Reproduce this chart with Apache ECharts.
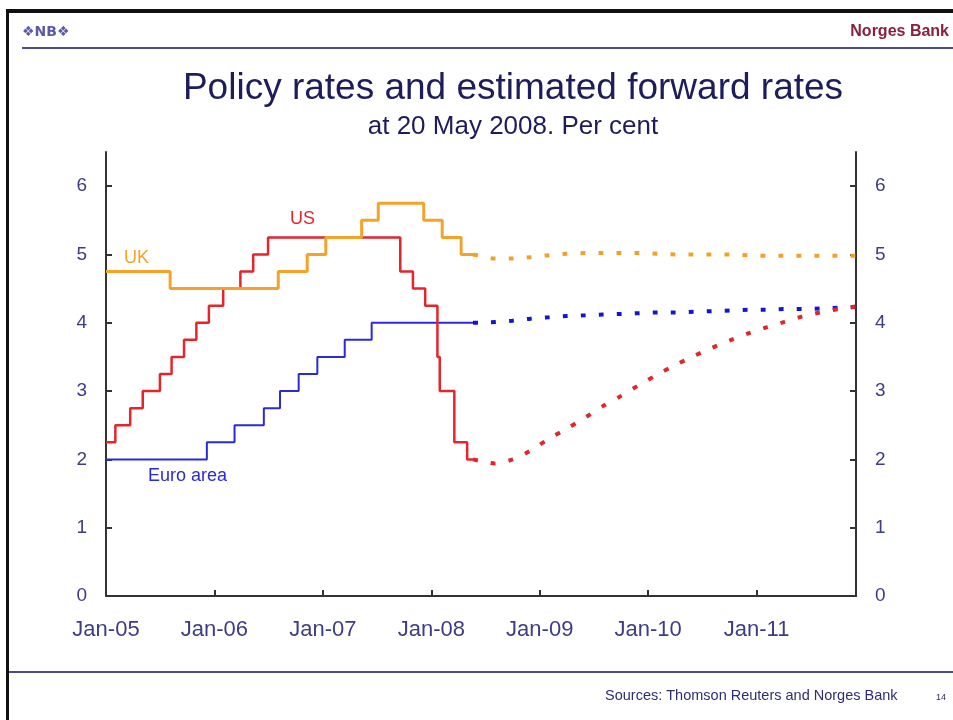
<!DOCTYPE html>
<html>
<head>
<meta charset="utf-8">
<script src="https://cdn.jsdelivr.net/npm/echarts@6/dist/echarts.min.js"></script>
<style>
  html, body { margin: 0; padding: 0; background: #ffffff; }
  #chart { width: 953px; height: 720px; }
</style>
</head>
<body>
<div id="chart"></div>
<script>
// Axis tick labels
const xTickLabels = ['Jan-05', 'Jan-06', 'Jan-07', 'Jan-08', 'Jan-09', 'Jan-10', 'Jan-11'];
const yTickValues = [0, 1, 2, 3, 4, 5, 6];

// Policy rates: date each rate took effect, and the rate (per cent)
const ukDates = ['2005-01-01', '2005-08-04', '2006-08-03', '2006-11-09', '2007-01-11', '2007-05-10',
                 '2007-07-05', '2007-12-06', '2008-02-07', '2008-04-10', '2008-05-20'];
const ukRates = [4.75, 4.50, 4.75, 5.00, 5.25, 5.50, 5.75, 5.50, 5.25, 5.00, 5.00];

const usDates = ['2005-01-01', '2005-02-02', '2005-03-22', '2005-05-03', '2005-06-30', '2005-08-09',
                 '2005-09-20', '2005-11-01', '2005-12-13', '2006-01-31', '2006-03-28', '2006-05-10',
                 '2006-06-29', '2007-09-18', '2007-10-31', '2007-12-11', '2008-01-22', '2008-01-30',
                 '2008-03-18', '2008-04-30', '2008-05-20'];
const usRates = [2.25, 2.50, 2.75, 3.00, 3.25, 3.50, 3.75, 4.00, 4.25, 4.50, 4.75, 5.00,
                 5.25, 4.75, 4.50, 4.25, 3.50, 3.00, 2.25, 2.00, 2.00];

const euroDates = ['2005-01-01', '2005-12-06', '2006-03-08', '2006-06-15', '2006-08-09', '2006-10-11',
                   '2006-12-13', '2007-03-14', '2007-06-13', '2008-05-20'];
const euroRates = [2.00, 2.25, 2.50, 2.75, 3.00, 3.25, 3.50, 3.75, 4.00, 4.00];

// Estimated forward rates from 20 May 2008
const fwdDates = ['2008-05-20', '2008-07', '2008-08', '2008-10', '2008-12', '2009-02', '2009-04',
                  '2009-06', '2009-08', '2009-10', '2009-12', '2010-02', '2010-04', '2010-06',
                  '2010-08', '2010-10', '2010-12', '2011-02', '2011-04', '2011-06', '2011-08',
                  '2011-10', '2011-12'];
const ukForward   = [5.00, 4.96, 4.94, 4.94, 4.96, 4.99, 5.01, 5.02, 5.02, 5.02, 5.02, 5.01,
                     5.00, 5.00, 5.00, 5.00, 4.99, 4.98, 4.98, 4.98, 4.98, 4.98, 4.98];
const usForward   = [2.00, 1.96, 1.94, 2.00, 2.13, 2.30, 2.45, 2.61, 2.78, 2.93, 3.09, 3.24,
                     3.38, 3.51, 3.63, 3.74, 3.84, 3.93, 4.01, 4.09, 4.15, 4.20, 4.24];
const euroForward = [4.00, 4.00, 4.01, 4.03, 4.06, 4.08, 4.10, 4.11, 4.12, 4.13, 4.14, 4.15,
                     4.15, 4.16, 4.17, 4.18, 4.19, 4.19, 4.20, 4.20, 4.21, 4.22, 4.23];

// Months elapsed since January 2005 (fractional within the month)
function toMonth(s) {
  const p = s.split('-').map(Number);
  const y = p[0], m = p[1], d = p[2] || 1;
  const dim = new Date(y, m, 0).getDate();
  return (y - 2005) * 12 + (m - 1) + (d - 1) / dim;
}
function pairs(dates, vals) {
  return dates.map((d, i) => [toMonth(d), vals[i]]);
}

const FONT = '"Liberation Sans", Arial, sans-serif';
const NAVY = '#3d3d86';
const TITLE = '#1d1d5c';
const C_UK = '#f3a329';
const C_US = '#e4262c';
const C_EURO = '#2a2ad8';

const chart = echarts.init(document.getElementById('chart'), null, { renderer: 'canvas' });

const yAxisBase = {
  type: 'value', min: 0, max: 6.5,
  splitLine: { show: false },
  axisLine: { show: true, lineStyle: { color: '#333333', width: 2 } },
  axisTick: { show: true, inside: true, length: 6, customValues: yTickValues,
              lineStyle: { color: '#333333', width: 2 } },
  axisLabel: { customValues: yTickValues, color: NAVY, fontFamily: FONT, fontSize: 19, margin: 19 }
};

const stepLine = (name, data, color, width, z) => ({
  name, type: 'line', step: 'end', data, symbol: 'none', z,
  lineStyle: { color, width }, animation: false, silent: true
});
const fwdLine = (name, data, color, z) => ({
  name, type: 'line', smooth: 0.3, data, symbol: 'none', z,
  lineStyle: { color, width: 4, type: [5, 13], cap: 'butt' }, animation: false, silent: true
});

chart.setOption({
  backgroundColor: '#ffffff',
  animation: false,
  grid: { left: 106, right: 97, top: 152, bottom: 124, containLabel: false },
  xAxis: {
    type: 'value', min: 0, max: 83,
    splitLine: { show: false },
    axisLine: { show: true, lineStyle: { color: '#333333', width: 2 } },
    axisTick: { show: true, inside: true, length: 6,
                customValues: xTickLabels.map((_, i) => i * 12),
                lineStyle: { color: '#333333', width: 2 } },
    axisLabel: { customValues: xTickLabels.map((_, i) => i * 12),
                 formatter: v => xTickLabels[Math.round(v / 12)],
                 color: NAVY, fontFamily: FONT, fontSize: 22, margin: 23 }
  },
  yAxis: [
    Object.assign({}, yAxisBase, { position: 'left' }),
    Object.assign({}, yAxisBase, { position: 'right' })
  ],
  series: [
    stepLine('Euro area', pairs(euroDates, euroRates), C_EURO, 2, 2),
    stepLine('US', pairs(usDates, usRates), C_US, 2.5, 3),
    stepLine('UK', pairs(ukDates, ukRates), C_UK, 3, 4),
    fwdLine('Euro area forward', pairs(fwdDates, euroForward), '#1414d2', 5),
    fwdLine('US forward', pairs(fwdDates, usForward), '#e0262a', 5),
    fwdLine('UK forward', pairs(fwdDates, ukForward), '#f0a228', 5)
  ],
  graphic: [
    // frame
    { type: 'rect', shape: { x: 7, y: 9, width: 960, height: 4 }, style: { fill: '#111111' }, silent: true },
    { type: 'rect', shape: { x: 6, y: 9, width: 3, height: 720 }, style: { fill: '#111111' }, silent: true },
    // header
    { type: 'text', x: 22, y: 25, style: { text: '❖NB❖', font: 'bold 14px "DejaVu Sans", sans-serif', fill: '#5a5aa6' } },
    { type: 'text', right: 4, top: 24, style: { text: 'Norges Bank', font: 'bold 16px ' + FONT, fill: '#8a1f3e' } },
    { type: 'rect', shape: { x: 22, y: 47, width: 940, height: 2 }, style: { fill: '#4b4b92' }, silent: true },
    // titles
    { type: 'text', x: 513, y: 70, style: { text: 'Policy rates and estimated forward rates',
      font: '37px ' + FONT, fill: TITLE, align: 'center' } },
    { type: 'text', x: 513, y: 114, style: { text: 'at 20 May 2008. Per cent',
      font: '26px ' + FONT, fill: TITLE, align: 'center' } },
    // footer
    { type: 'rect', shape: { x: 9, y: 671, width: 950, height: 2 }, style: { fill: '#4b4b92' }, silent: true },
    { type: 'text', x: 605, y: 688, style: { text: 'Sources: Thomson Reuters and Norges Bank', font: '14.5px ' + FONT, fill: '#2e2e70' } },
    { type: 'text', x: 936, y: 693, style: { text: '14', font: '9px ' + FONT, fill: '#2e2e70' } },
    // series labels
    { type: 'text', x: 124, y: 249, style: { text: 'UK', font: '18px ' + FONT, fill: C_UK } },
    { type: 'text', x: 290, y: 210, style: { text: 'US', font: '18px ' + FONT, fill: C_US } },
    { type: 'text', x: 148, y: 467, style: { text: 'Euro area', font: '18px ' + FONT, fill: C_EURO } }
  ]
});
</script>
</body>
</html>
